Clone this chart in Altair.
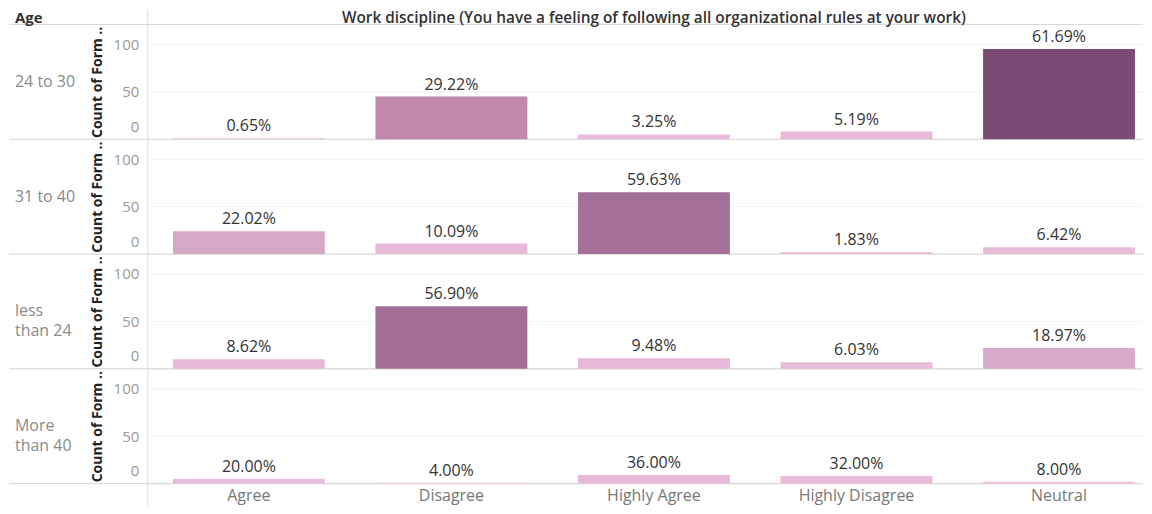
import altair as alt
import pandas as pd

ages = ["24 to 30", "31 to 40", "less than 24", "More than 40"]
age_labels = ["24 to 30", "31 to 40", "less\nthan 24", "More\nthan 40"]
cats = ["Agree", "Disagree", "Highly Agree", "Highly Disagree", "Neutral"]
counts = {
    "24 to 30": [1, 45, 5, 8, 95],
    "31 to 40": [24, 11, 65, 2, 7],
    "less than 24": [10, 66, 11, 7, 22],
    "More than 40": [5, 1, 9, 8, 2],
}
title_text = "Work discipline (You have a feeling of following all organizational rules at your work)"
y_title = "Count of Form .."

rows = []
for a, al in zip(ages, age_labels):
    tot = sum(counts[a])
    for c, v in zip(cats, counts[a]):
        rows.append({"age": a, "age_label": al, "cat": c, "count": v,
                     "pct": f"{v / tot * 100:.2f}%"})
df = pd.DataFrame(rows)

W = 997
H = 115
TOP = 15
BOTTOM = 23
FONT = "Open Sans"
x_scale = alt.Scale(paddingInner=0.25, paddingOuter=0.082, align=0.758)
y_scale = alt.Scale(domain=[0, 121], nice=False)
c_scale = alt.Scale(domain=[1, 11, 24, 45, 65, 95],
                    range=["#ebbfdf", "#e8b8d9", "#d6a7c7", "#c088aa", "#a47097", "#7b4b76"])


def row_chart(i, age):
    last = i == len(ages) - 1
    first = i == 0
    if last:
        x_axis = alt.Axis(labelAngle=0, labelFontSize=16, labelColor="#777777",
                          labelFont=FONT, domain=False, ticks=False, labelPadding=4,
                          grid=False)
        x_enc = alt.X("cat:N", sort=cats, title=None, scale=x_scale, axis=x_axis)
    else:
        x_enc = alt.X("cat:N", sort=cats, title=None, scale=x_scale, axis=None)
    y_axis = alt.Axis(values=[0, 50, 100], labelFontSize=15, labelColor="#999999",
                      labelFont=FONT, domain=False, ticks=False, labelPadding=9,
                      labelFlush=True, labelFlushOffset=-5,
                      gridColor="#f2f2f2", titleFont=FONT, titleFontSize=14,
                      titleFontWeight="bold", titleColor="#222222",
                      titleAngle=270, titleX=-50, titleY=H / 2,
                      titleAlign="center", titleBaseline="middle")
    base = alt.Chart(df).transform_filter(alt.datum.age == age)

    bars = base.mark_bar().encode(
        x=x_enc,
        y=alt.Y("count:Q", title=y_title, scale=y_scale, axis=y_axis),
        color=alt.Color("count:Q", legend=None, scale=c_scale),
    )
    labels = base.mark_text(baseline="bottom", dy=-4, fontSize=16,
                            color="#333333", font=FONT).encode(
        x=alt.X("cat:N", sort=cats),
        y=alt.Y("count:Q"),
        text="pct:N",
    )
    one = base.transform_filter(alt.datum.cat == "Agree")
    row_text = one.mark_text(align="left", baseline="middle", fontSize=16,
                             color="#8a8a8a", font=FONT, lineBreak="\n",
                             lineHeight=20).encode(
        x=alt.value(-133), y=alt.value(H / 2), text="age_label:N")
    hsep = one.mark_rule(color="#d4d4d4", strokeWidth=1).encode(
        x=alt.value(-139), x2=alt.value(W), y=alt.value(H))
    vsep = one.mark_rule(color="#dddddd", strokeWidth=1).encode(
        x=alt.value(0), y=alt.value(-TOP if first else 0),
        y2=alt.value(H + BOTTOM if last else H))
    layers = [vsep, hsep, bars, labels, row_text]
    if first:
        htop = one.mark_rule(color="#d4d4d4", strokeWidth=1).encode(
            x=alt.value(-139), x2=alt.value(W), y=alt.value(0))
        age_head = one.mark_text(align="left", baseline="middle", fontSize=15,
                                 fontWeight="bold", color="#333333", font=FONT).encode(
            x=alt.value(-133), y=alt.value(-6), text=alt.value("Age"))
        main_head = one.mark_text(align="center", baseline="middle", fontSize=15.4,
                                  fontWeight=600, color="#333333", font=FONT).encode(
            x=alt.value(507), y=alt.value(-6), text=alt.value(title_text))
        layers += [htop, age_head, main_head]
    return alt.layer(*layers).properties(width=W, height=H)


chart = alt.vconcat(*[row_chart(i, a) for i, a in enumerate(ages)],
                    spacing=0, bounds="flush").properties(padding=0).configure_view(
    stroke=None).configure_axis(grid=True)

chart.save("out.html", embed_options={"renderer": "svg", "actions": False})
